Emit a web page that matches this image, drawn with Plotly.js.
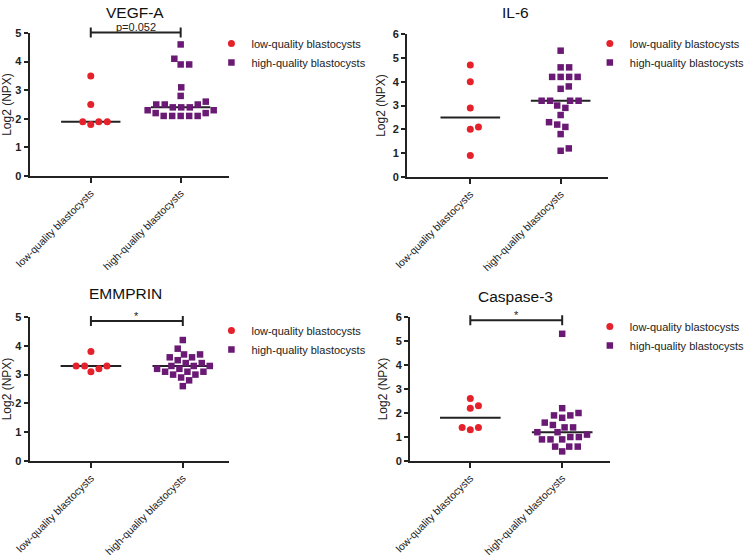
<!DOCTYPE html>
<html>
<head>
<meta charset="utf-8">
<script src="https://cdn.plot.ly/plotly-3.0.1.min.js"></script>
<style>html,body{margin:0;padding:0;background:#fff;}#chart{width:750px;height:559px;}</style>
</head>
<body>
<div id="chart"></div>
<script>
// ---- data ----
const categories = ['low-quality blastocysts', 'high-quality blastocysts'];
const panelTitles = ['VEGF-A', 'IL-6', 'EMMPRIN', 'Caspase-3'];
const yAxisTitle = 'Log2 (NPX)';

const vegfLow  = [3.5, 2.5, 1.9, 1.8, 1.9, 1.9];
const vegfHigh = [4.6, 4.1, 3.9, 3.9, 3.1, 2.8, 2.6, 2.5, 2.5, 2.5, 2.4, 2.4, 2.4, 2.3, 2.3, 2.2, 2.2, 2.1, 2.1, 2.1, 2.1, 2.1];
const il6Low   = [4.7, 4.0, 2.9, 2.1, 2.0, 0.9];
const il6High  = [5.3, 4.6, 4.6, 4.2, 4.2, 4.2, 4.2, 3.8, 3.7, 3.2, 3.2, 3.2, 3.2, 3.0, 2.9, 2.6, 2.3, 2.2, 2.1, 1.8, 1.2, 1.1];
const emmLow   = [3.8, 3.3, 3.3, 3.3, 3.2, 3.1];
const emmHigh  = [4.2, 3.9, 3.7, 3.7, 3.6, 3.6, 3.5, 3.4, 3.4, 3.3, 3.3, 3.3, 3.2, 3.2, 3.1, 3.1, 3.1, 3.0, 3.0, 2.9, 2.8, 2.6];
const casLow   = [2.6, 2.3, 2.2, 1.4, 1.4, 1.3];
const casHigh  = [5.3, 2.2, 2.0, 1.9, 1.9, 1.8, 1.6, 1.5, 1.4, 1.4, 1.2, 1.2, 1.1, 1.0, 1.0, 0.9, 0.9, 0.9, 0.6, 0.6, 0.6, 0.4];

const lowSeries  = [vegfLow, il6Low, emmLow, casLow];
const highSeries = [vegfHigh, il6High, emmHigh, casHigh];
const yMaxes     = [5, 6, 5, 6];
const sigLabels  = ['p=0.052', '', '*', '*'];
const bracketY   = [5.02, null, 4.86, 5.86];

// ---- layout geometry (pixels) ----
const W = 750, H = 559;
const boxes = [[30, 232, 33, 176], [412, 615, 34, 177], [30, 232, 317, 461], [415, 617, 317, 461]];
const xRanges = [[-0.68, 1.54], [-0.70, 1.52], [-0.667, 1.505], [-0.656, 1.516]];
const titlePos = [[137, 12], [522, 12], [127, 293], [522, 296]];
const legendPos = [[214, 29], [597, 29], [214, 316], [597, 312]];
const red = '#e5222b', purple = '#6a1a74';
const FONT = 'Liberation Sans, Arial, sans-serif';

function median(a) {
  const s = a.slice().sort((p, q) => p - q);
  const n = s.length;
  return n % 2 ? s[(n - 1) / 2] : (s[n / 2 - 1] + s[n / 2]) / 2;
}

// beeswarm offsets computed from the values (pixel collision avoidance)
function swarm(vals, pxX, pxY, d) {
  const idx = vals.map((v, i) => i).sort((a, b) => vals[a] - vals[b]);
  const placed = [];
  const offs = new Array(vals.length);
  idx.forEach(i => {
    const y = vals[i] * pxY;
    const ivs = [];
    let sum = 0;
    placed.forEach(p => {
      const dy = Math.abs(p.y - y);
      if (dy < d) {
        const w = Math.sqrt(d * d - dy * dy);
        ivs.push([p.x - w, p.x + w]);
        sum += p.x;
      }
    });
    const cands = [0];
    ivs.forEach(iv => cands.push(iv[0], iv[1]));
    cands.sort((a, b) => {
      const da = Math.abs(a) - Math.abs(b);
      if (Math.abs(da) > 1e-6) return da;
      return sum > 0 ? a - b : b - a;
    });
    let c = 0;
    for (const cand of cands) {
      if (!ivs.some(iv => iv[0] + 1e-6 < cand && cand < iv[1] - 1e-6)) { c = cand; break; }
    }
    placed.push({ x: c, y: y });
    offs[i] = c / pxX;
  });
  return offs;
}

const traces = [];
const layout = {
  width: W, height: H,
  margin: { l: 0, r: 0, t: 0, b: 0 },
  paper_bgcolor: '#fff', plot_bgcolor: '#fff',
  font: { family: FONT, color: '#222', size: 11 },
  annotations: [], shapes: []
};

for (let k = 0; k < 4; k++) {
  const [L, R, T, B] = boxes[k];
  const xr = xRanges[k];
  const ymax = yMaxes[k];
  const pxX = (R - L) / (xr[1] - xr[0]);
  const pxY = (B - T) / ymax;
  const xs = k === 0 ? 'x' : 'x' + (k + 1);
  const ys = k === 0 ? 'y' : 'y' + (k + 1);
  const xa = k === 0 ? 'xaxis' : 'xaxis' + (k + 1);
  const ya = k === 0 ? 'yaxis' : 'yaxis' + (k + 1);
  const lg = k === 0 ? 'legend' : 'legend' + (k + 1);

  layout[xa] = {
    domain: [L / W, R / W], anchor: ys, range: xr,
    tickvals: [0, 1], ticktext: categories, tickangle: -45,
    ticks: 'outside', ticklen: 5, tickwidth: 2, tickcolor: '#222',
    showline: true, linewidth: 2, linecolor: '#222',
    showgrid: false, zeroline: false, fixedrange: true,
    tickfont: { family: FONT, size: 10.5, color: '#222' }
  };
  layout[ya] = {
    domain: [1 - B / H, 1 - T / H], anchor: xs, range: [0, ymax],
    dtick: 1, ticks: 'outside', ticklen: 4, tickwidth: 2, tickcolor: '#222',
    showline: true, linewidth: 2, linecolor: '#222',
    showgrid: false, zeroline: false, fixedrange: true,
    tickfont: { family: FONT, size: 11, color: '#222', weight: 'bold' },
    title: { text: yAxisTitle, font: { family: FONT, size: 12, color: '#222' }, standoff: 5 }
  };
  layout[lg] = {
    x: legendPos[k][0] / W, y: 1 - legendPos[k][1] / H,
    xanchor: 'left', yanchor: 'top', bgcolor: 'rgba(0,0,0,0)',
    font: { family: FONT, size: 11, color: '#222' }, tracegroupgap: 0
  };

  const groups = [lowSeries[k], highSeries[k]];
  // median lines
  groups.forEach((vals, g) => {
    const m = median(vals);
    traces.push({
      type: 'scatter', mode: 'lines', xaxis: xs, yaxis: ys, showlegend: false,
      x: [g - 0.33, g + 0.33], y: [m, m],
      line: { color: '#222', width: 2 }, hoverinfo: 'skip'
    });
  });
  groups.forEach((vals, g) => {
    const offs = swarm(vals, pxX, pxY, 8.6);
    traces.push({
      type: 'scatter', mode: 'markers', xaxis: xs, yaxis: ys, legend: lg,
      name: categories[g], showlegend: true, cliponaxis: false,
      x: vals.map((v, i) => g + offs[i]), y: vals,
      marker: g === 0 ? { symbol: 'circle', size: 7, color: red } : { symbol: 'square', size: 6.5, color: purple }
    });
  });

  // panel title
  layout.annotations.push({
    text: panelTitles[k], xref: 'paper', yref: 'paper',
    x: titlePos[k][0] / W, y: 1 - titlePos[k][1] / H, xanchor: 'center', yanchor: 'middle',
    showarrow: false, font: { family: FONT, size: 15.5, color: '#111' }
  });

  // significance bracket
  if (bracketY[k] !== null) {
    const yb = 1 - (B - bracketY[k] * pxY) / H;
    const cap = 5 / H;
    const ln = { color: '#222', width: 2 };
    layout.shapes.push({ type: 'line', xref: xs, yref: 'paper', x0: 0, x1: 1, y0: yb, y1: yb, line: ln });
    layout.shapes.push({ type: 'line', xref: xs, yref: 'paper', x0: 0, x1: 0, y0: yb - cap, y1: yb + cap, line: ln });
    layout.shapes.push({ type: 'line', xref: xs, yref: 'paper', x0: 1, x1: 1, y0: yb - cap, y1: yb + cap, line: ln });
    layout.annotations.push({
      text: sigLabels[k], xref: xs, yref: 'paper', x: 0.5, y: yb + 5 / H,
      xanchor: 'center', yanchor: 'middle', showarrow: false,
      font: { family: FONT, size: 11, color: '#222' }
    });
  }
}

Plotly.newPlot('chart', traces, layout, { staticPlot: true });
</script>
</body>
</html>
